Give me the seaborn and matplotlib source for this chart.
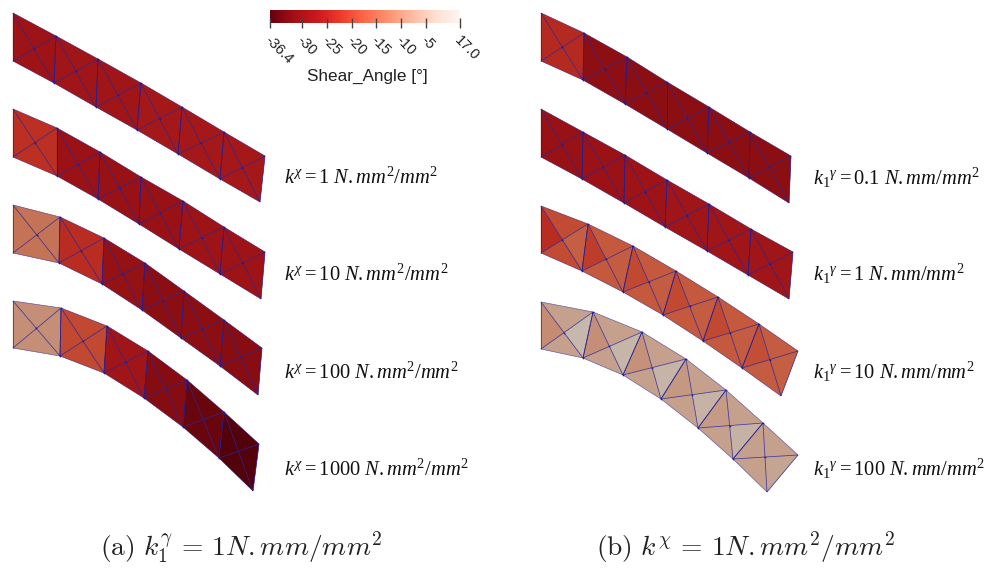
import numpy as np
import matplotlib
matplotlib.use("Agg")
import matplotlib.pyplot as plt
from matplotlib.collections import PolyCollection, LineCollection
from matplotlib.transforms import ScaledTranslation
import seaborn as sns

# -----------------------
# COLOUR SCALE
# -----------------------
tick_values = [-36.4, -30, -25, -20, -15, -10, -5, 17.0]
tick_labels = ["-36.4", "-30", "-25", "-20", "-15", "-10", "-5", "17.0"]
tick_fracs = [0.0, 0.168, 0.30, 0.432, 0.558, 0.689, 0.82, 1.0]

# -----------------------
# MESH NODES (left panel)
# -----------------------
a1_top = [(13, 13), (56, 36), (98, 59), (141, 83), (182, 107), (224, 132), (265, 156)]
a1_bot = [(13, 61), (54, 83), (96, 107), (137, 130), (178, 154), (220, 179), (260, 202)]
a2_top = [(13, 109), (57, 128), (100, 152), (141, 177), (183, 201), (224, 227), (265, 252)]
a2_bot = [(13, 157), (57, 176), (98, 199), (139, 224), (179, 249), (220, 274), (261, 299)]
a3_top = [(13, 205), (60, 217), (104, 238), (145, 263), (184, 291), (224, 320), (262, 348)]
a3_bot = [(13, 253), (59, 263), (102, 284), (142, 310), (181, 338), (220, 366), (258, 395)]
a4_top = [(13, 301), (61, 308), (107, 326), (148, 351), (187, 380), (224, 412), (259, 444)]
a4_bot = [(13, 348), (60, 356), (104, 373), (144, 398), (183, 427), (219, 458), (253, 491)]

# -----------------------
# MESH NODES (right panel)
# -----------------------
b1_top = [(541, 13), (584, 33), (627, 57), (667, 82), (709, 107), (750, 132), (791, 156)]
b1_bot = [(541, 61), (583, 80), (625, 104), (667, 129), (707, 153), (749, 178), (789, 203)]
b2_top = [(541, 109), (583, 132), (625, 155), (667, 180), (709, 204), (751, 229), (793, 252)]
b2_bot = [(541, 157), (582, 179), (624, 203), (665, 227), (707, 251), (748, 275), (789, 299)]
b3_top = [(541, 206), (588, 224), (633, 246), (676, 271), (718, 297), (759, 324), (798, 351)]
b3_bot = [(541, 253), (582, 271), (623, 292), (663, 315), (703, 341), (742, 368), (781, 396)]
b4_top = [(541, 302), (593, 312), (642, 332), (686, 359), (726, 390), (763, 423), (798, 455)]
b4_bot = [(541, 349), (583, 358), (623, 375), (661, 399), (698, 428), (733, 459), (767, 492)]

# -----------------------
# SHEAR ANGLE PER ELEMENT
# -----------------------
a1_shear = [-27, -26.5, -26.5, -26, -26, -26]
a2_shear = [-22, -27.5, -28, -28, -27, -27]
a3_shear = [-12.5, -22.5, -28.5, -30, -30, -30.5]
a4_shear = [-8.5, -19, -26.5, -31, -34, -36]
b1_shear = [-23, -29.5, -30, -30, -30, -30]
b2_shear = [-28, -27.5, -27, -26.5, -26.5, -26.5]

b3_left = [-22.5, -20.5, -19, -19, -19, -18]
b3_mid = [-18.5, -16.5, -16.5, -16.5, -16.5, -16]
b3_right = [-15.5, -16, -16, -16, -16, -15.5]

b4_left = [-9, -8.5, -8, -7, -6.5, -5.5]
b4_mid = [-5.5, -5.5, -5.5, -5.5, -5.5, -5.5]
b4_right = [8, 6, 5, 4, 3, -5]

left_texts = ["$k^{\\chi}\\mathrm{=1}\\ N{.}mm^{2}/mm^{2}$",
              "$k^{\\chi}\\mathrm{=10}\\ N{.}mm^{2}/mm^{2}$",
              "$k^{\\chi}\\mathrm{=100}\\ N{.}mm^{2}/mm^{2}$",
              "$k^{\\chi}\\mathrm{=1000}\\ N{.}mm^{2}/mm^{2}$"]
right_texts = ["$k_{1}{}^{\\gamma}\\mathrm{=0.1}\\ N{.}mm/mm^{2}$",
               "$k_{1}{}^{\\gamma}\\mathrm{=1}\\ N{.}mm/mm^{2}$",
               "$k_{1}{}^{\\gamma}\\mathrm{=10}\\ N{.}mm/mm^{2}$",
               "$k_{1}{}^{\\gamma}\\mathrm{=100}\\ N{.}mm/mm^{2}$"]

# -----------------------
# SETUP
# -----------------------
sns.set_style("white")
plt.rcParams["font.family"] = ["Liberation Sans", "DejaVu Sans"]
plt.rcParams["mathtext.fontset"] = "custom"
plt.rcParams["mathtext.rm"] = "Liberation Serif"
plt.rcParams["mathtext.it"] = "Liberation Serif:italic"

cmap = sns.color_palette("Reds_r", as_cmap=True)
SHADE = np.array([0.78, 0.79, 0.77])   # the render has lighting, mesh is darker than the bar
EDGE = "#1c1a96"

fig = plt.figure(figsize=(9.91, 5.71), dpi=100)
ax = fig.add_axes([0, 0, 1, 1])
ax.set_xlim(0, 991)
ax.set_ylim(571, 0)
ax.axis("off")


def shear_color(v):
    rgb = np.array(cmap(np.interp(v, tick_values, tick_fracs))[:3])
    return tuple(rgb * SHADE)


def draw_strip(top, bot, left, mid=None, right=None):
    # every quad is split in 4 triangles by its two diagonals
    mid = left if mid is None else mid
    right = left if right is None else right
    top = np.array(top, float)
    bot = np.array(bot, float)
    polys, colors, segs, centers = [], [], [], []
    for i in range(len(top) - 1):
        p1, p2, p3, p4 = top[i], top[i + 1], bot[i + 1], bot[i]
        d1, d2 = p3 - p1, p4 - p2
        cross = lambda u, v: u[0] * v[1] - u[1] * v[0]
        t = cross(p2 - p1, d2) / cross(d1, d2)
        c = p1 + t * d1
        polys += [[p4, p1, c], [p1, p2, c], [p2, p3, c], [p3, p4, c]]
        colors += [shear_color(left[i]), shear_color(mid[i]),
                   shear_color(right[i]), shear_color(mid[i])]
        segs += [[p1, p3], [p2, p4], [p1, p4], [p2, p3]]
        centers.append(c)
    ax.add_collection(PolyCollection(polys, facecolors=colors, edgecolors=colors, linewidths=0.2))
    ax.add_collection(LineCollection(segs, colors=EDGE, linewidths=0.55, alpha=0.8))
    ax.plot(top[:, 0], top[:, 1], color=EDGE, lw=0.5, alpha=0.55)
    ax.plot(bot[:, 0], bot[:, 1], color=EDGE, lw=0.5, alpha=0.55)
    nodes = np.vstack([top[1:-1], bot[1:-1], np.array(centers)])
    ax.scatter(nodes[:, 0], nodes[:, 1], s=1.5, color=EDGE, linewidths=0, zorder=3)


draw_strip(a1_top, a1_bot, a1_shear)
draw_strip(a2_top, a2_bot, a2_shear)
draw_strip(a3_top, a3_bot, a3_shear)
draw_strip(a4_top, a4_bot, a4_shear)
draw_strip(b1_top, b1_bot, b1_shear)
draw_strip(b2_top, b2_bot, b2_shear)
draw_strip(b3_top, b3_bot, b3_left, b3_mid, b3_right)
draw_strip(b4_top, b4_bot, b4_left, b4_mid, b4_right)

# -----------------------
# LABELS
# -----------------------
for txt, y in zip(left_texts, [177, 274, 372, 469]):
    ax.text(284, y, txt, fontsize=14.8, va="center", ha="left", color="#111111")
for txt, y in zip(right_texts, [178, 274, 372, 469]):
    ax.text(813, y, txt, fontsize=14.8, va="center", ha="left", color="#111111")

ax.text(241, 548, "$\\mathrm{(a)}\\ k_1^{\\gamma}\\,=\\,1N{.}mm/mm^2$", fontsize=19.8,
        math_fontfamily="cm", ha="center", va="center", color="#222222")
ax.text(745.5, 548, "$\\mathrm{(b)}\\ k^{\\chi}\\,=\\,1N{.}mm^2/mm^2$", fontsize=19.8,
        math_fontfamily="cm", ha="center", va="center", color="#222222")

# -----------------------
# COLOUR BAR
# -----------------------
cax = fig.add_axes([270 / 991, 1 - 23 / 571, 190 / 991, 13 / 571])
gradient = np.linspace(0, 1, 256).reshape(1, -1)
sns.heatmap(gradient, ax=cax, cmap=cmap, vmin=0, vmax=1, cbar=False,
            xticklabels=False, yticklabels=False)
cax.set_axisbelow(False)
cax.set_xticks(np.array(tick_fracs) * 256)
cax.set_xticklabels(tick_labels, rotation=-45, ha="left", va="top", fontsize=10.5, color="#222222")
cax.tick_params(axis="x", direction="inout", length=6.5, width=1, color="#444444", pad=4, bottom=True)
shift = ScaledTranslation(-8 / 100, 0, fig.dpi_scale_trans)
for lab in cax.get_xticklabels():
    lab.set_transform(lab.get_transform() + shift)
ax.text(367, 76, "Shear_Angle [°]", fontsize=12.3, ha="center", va="center", color="#222222")

fig.savefig("out.png", dpi=100)
